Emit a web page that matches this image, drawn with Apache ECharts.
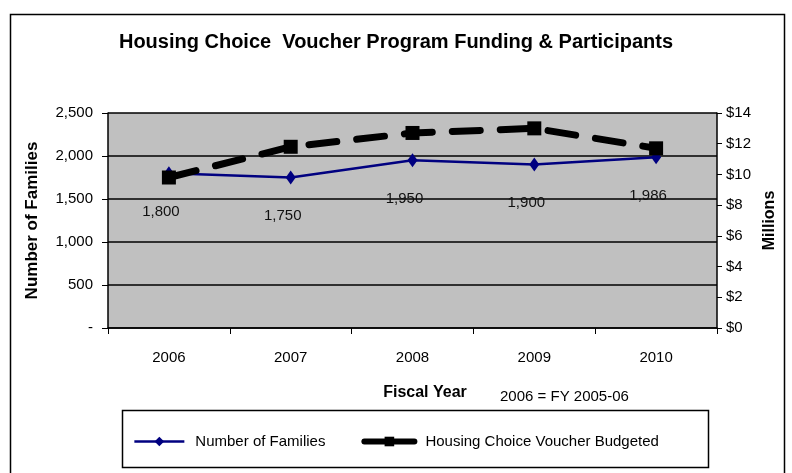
<!DOCTYPE html>
<html>
<head>
<meta charset="utf-8">
<script src="https://cdn.jsdelivr.net/npm/echarts@6/dist/echarts.min.js"></script>
<style>
html,body{margin:0;padding:0;background:#fff;}
#chart{width:792px;height:473px;}
</style>
</head>
<body>
<div id="chart"></div>
<script>
var categories = ['2006', '2007', '2008', '2009', '2010'];
var families = [1800, 1750, 1950, 1900, 1986];
var voucherMillions = [9.8, 11.8, 12.7, 13.0, 11.7];
var leftTicks = [0, 500, 1000, 1500, 2000, 2500];
var rightTicks = [0, 2, 4, 6, 8, 10, 12, 14];

var FONT = "'Liberation Sans Narrow', 'Arial Narrow', 'Liberation Sans', Arial, sans-serif";
var chart = echarts.init(document.getElementById('chart'), null, {renderer: 'canvas'});

function fmtNum(v) {
  if (v === 0) return '-';
  return v.toString().replace(/\B(?=(\d{3})+(?!\d))/g, ',');
}

var option = {
  backgroundColor: '#ffffff',
  animation: false,
  textStyle: {fontFamily: FONT},
  title: {
    text: 'Housing Choice  Voucher Program Funding & Participants',
    left: 'center',
    top: 27,
    textStyle: {fontFamily: FONT, fontSize: 20, fontWeight: 'bold', color: '#000'}
  },
  graphic: [
    {type: 'rect', left: 8, top: 12, shape: {width: 774, height: 480},
     style: {fill: 'none', stroke: '#000', lineWidth: 1.5}, silent: true, z: 0},
    {type: 'rect', left: 120, top: 408, shape: {width: 586, height: 57},
     style: {fill: 'none', stroke: '#000', lineWidth: 1.5}, silent: true, z: 0},
    {type: 'text', x: 425, y: 385,
     style: {text: 'Fiscal Year', font: 'bold 16px ' + FONT, fill: '#000', align: 'center'}},
    {type: 'text', x: 500, y: 389,
     style: {text: '2006 = FY 2005-06', font: '15px ' + FONT, fill: '#000'}}
  ],
  legend: {
    top: 429,
    left: 'center',
    itemGap: 36,
    itemWidth: 50,
    itemHeight: 12,
    textStyle: {fontFamily: FONT, fontSize: 15, color: '#000', padding: [0, 0, 0, 6]},
    data: [
      {name: 'Number of Families', lineStyle: {width: 2.5}},
      {name: 'Housing Choice Voucher Budgeted', lineStyle: {width: 6, type: 'solid'}}
    ]
  },
  grid: {left: 108, right: 75, top: 113, bottom: 145, show: true, backgroundColor: '#c0c0c0', borderWidth: 0},
  xAxis: {
    type: 'category',
    data: categories,
    boundaryGap: true,
    axisLine: {lineStyle: {color: '#000', width: 1.5}},
    axisTick: {show: true, length: 6, lineStyle: {color: '#000', width: 1}},
    axisLabel: {color: '#000', fontSize: 15, margin: 22, fontFamily: FONT}
  },
  yAxis: [
    {
      type: 'value', min: 0, max: 2500, interval: 500,
      name: 'Number of Families',
      nameLocation: 'middle', nameGap: 67, nameRotate: 90,
      nameTextStyle: {fontFamily: 'Liberation Sans, Arial, sans-serif', fontSize: 17, fontWeight: 'bold', color: '#000'},
      axisLine: {show: true, lineStyle: {color: '#000', width: 1.5}},
      axisTick: {show: true, length: 6, lineStyle: {color: '#000'}},
      axisLabel: {color: '#000', fontSize: 15, margin: 15, fontFamily: FONT, formatter: fmtNum},
      splitLine: {show: true, lineStyle: {color: '#000', width: 1.5}}
    },
    {
      type: 'value', min: 0, max: 14, interval: 2,
      position: 'right',
      name: 'Millions',
      nameLocation: 'middle', nameGap: 42, nameRotate: 90,
      nameTextStyle: {fontFamily: 'Liberation Sans, Arial, sans-serif', fontSize: 16, fontWeight: 'bold', color: '#000'},
      axisLine: {show: true, lineStyle: {color: '#000', width: 1.5}},
      axisTick: {show: true, length: 5, lineStyle: {color: '#000'}},
      axisLabel: {color: '#000', fontSize: 15, margin: 9, fontFamily: FONT, formatter: function (v) { return '$' + v; }},
      splitLine: {show: false}
    }
  ],
  series: [
    {
      name: 'Number of Families',
      type: 'line',
      yAxisIndex: 0,
      data: families,
      symbol: 'diamond',
      symbolSize: [10, 14],
      itemStyle: {color: '#000080'},
      lineStyle: {color: '#000080', width: 2.5},
      label: {
        show: true, position: 'bottom', distance: 24, offset: [-8, 0],
        fontFamily: FONT, fontSize: 15, color: '#111',
        formatter: function (p) { return fmtNum(p.value); }
      },
      z: 3
    },
    {
      name: 'Housing Choice Voucher Budgeted',
      type: 'line',
      yAxisIndex: 1,
      data: voucherMillions,
      symbol: 'rect',
      symbolSize: 14,
      itemStyle: {color: '#000'},
      lineStyle: {color: '#000', width: 7, type: [28, 20], cap: 'round'},
      z: 4
    }
  ]
};
chart.setOption(option);
</script>
</body>
</html>
